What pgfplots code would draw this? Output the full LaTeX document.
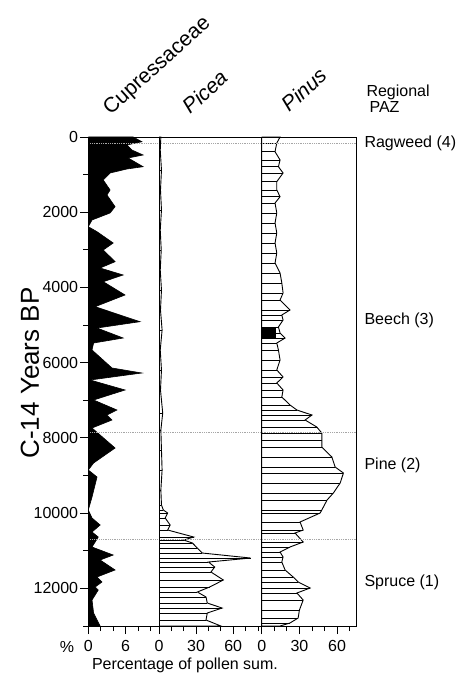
\documentclass[border=0pt]{standalone}
\usepackage{fontspec}
\setmainfont{Liberation Sans}
\usepackage{pgfplots}
\pgfplotsset{compat=1.18}
\usepackage{pgfplotstable}

% pollen percentages against C-14 age (years BP)
\pgfplotstableread{
age val
0 0
0 7.2
125 8.6
213 6.2
346 7.0
479 8.8
558 6.4
790 8.8
851 6.2
957 3.5
1143 2.4
1409 3.5
1542 3.0
1853 4.3
2020 3.5
2206 0.6
2385 0
2518 1.4
2818 4.0
3004 2.4
3315 4.3
3483 1.9
3669 5.6
3847 2.4
4200 5.9
4511 1.1
4910 8.3
5078 1.4
5344 5.6
5477 0.85
5663 0.6
6141 3.8
6274 8.6
6460 0.3
6726 5.9
6992 0.85
7258 4.6
7391 3.0
7524 3.8
7736 0.6
8268 4.3
8667 0.85
8853 0
9039 1.4
9571 0.6
9916 0
10129 0.6
10315 1.9
10501 0.6
10634 1.6
10900 0.6
11113 4.0
11245 1.9
11511 4.3
11697 1.4
11830 2.2
11963 1.1
12043 1.6
12309 0.6
12655 0.85
13000 1.9
13000 0
}\cupdata

\pgfplotstableread{
age val
0 0
0 1.5
346 1.0
877 2.0
1409 1.2
1941 2.0
2472 1.0
3004 1.8
3536 1.0
4068 2.0
4599 1.2
5131 2.5
5663 1.0
6194 2.0
6726 1.2
7338 3.0
7790 1.5
8321 2.0
8853 2.5
9384 1.5
9783 2.0
9916 3.5
9996 7
10129 5
10315 9
10448 7
10634 28
10714 20
10794 27
10927 31
11060 35
11193 74
11299 40
11432 45
11565 42
11777 52
11963 41
12096 31
12229 38
12389 39
12522 51
12655 39
12841 38
13000 50
13000 0
}\piceadata

\pgfplotstableread{
age val
0 0
0 14.6
160 12
391 10.6
611 14.6
790 13.3
957 17
1188 12
1409 12
1587 14.6
1755 10.6
2020 12
2286 10.6
2552 12
2818 10.6
3084 12
3350 10.6
3616 14.6
3881 16
4147 17
4333 14.6
4599 22.5
4732 16
4865 17
5051 13.3
5211 14.6
5344 18.6
5477 12
5663 13.3
5928 14.6
6194 12
6380 17
6540 12
6726 17
6912 16
7125 22.5
7258 28
7391 40
7524 34.5
7710 43.8
7870 47.8
8055 47.8
8241 47.8
8507 55.8
8773 58.4
8933 65
9198 62.4
9464 57
9650 52
9916 47.8
9996 46.5
10235 30.5
10448 33
10528 26.5
10767 33
10900 22.5
11033 14.6
11166 17
11299 16
11511 18.6
11697 25
11830 29
11990 38.5
12123 28
12309 33
12575 30
12787 29
12920 22.5
13000 14.6
13000 0
}\pinusdata

\pgfplotsset{
  pollen/.style={
    scale only axis, height=489pt,
    y dir=reverse, ymin=0, ymax=13000,
    axis on top,
    axis line style={line width=0.9pt},
    tick align=outside, xtick pos=bottom, ytick pos=left,
    major tick length=8pt, minor tick length=5pt,
    tick style={black, line width=0.9pt},
    ticklabel style={font=\fontsize{16}{18}\selectfont, inner sep=2pt},
    xticklabel style={yshift=-4pt},
    /pgf/number format/assume math mode=true,
    /pgf/number format/1000 sep={},
    scaled ticks=false,
  },
  zone/.style={gray!70, densely dotted, line width=0.8pt},
  silhouette/.style={draw=black, line width=0.9pt, fill=white},
}

\begin{document}
\begin{tikzpicture}

% Cupressaceae
\begin{axis}[pollen, at={(88.3pt,50pt)}, anchor=south west, width=70.7pt,
    xmin=0, xmax=11.35, xtick={0,6}, minor xtick={2,4,8,10},
    ytick={0,2000,...,12000}, minor ytick={1000,3000,...,13000}]
  \addplot[fill=black, draw=black, line width=0.6pt] table[x=val, y=age] {\cupdata} -- cycle;
  \addplot[zone] coordinates {(0,160) (12,160)};
  \addplot[zone] coordinates {(0,7850) (12,7850)};
  \addplot[zone] coordinates {(0,10690) (12,10690)};
\end{axis}

% Picea
\begin{axis}[pollen, at={(159pt,50pt)}, anchor=south west, width=102.7pt,
    xmin=0, xmax=83, xtick={0,30,60}, minor xtick={10,20,40,50,70,80},
    ytick=\empty]
  \addplot[silhouette] table[x=val, y=age] {\piceadata} -- cycle;
  \addplot[xcomb, black, line width=0.9pt] table[x=val, y=age] {\piceadata};
  \addplot[zone] coordinates {(0,160) (90,160)};
  \addplot[zone] coordinates {(0,7850) (90,7850)};
  \addplot[zone] coordinates {(0,10690) (90,10690)};
\end{axis}

% Pinus
\begin{axis}[pollen, at={(261.7pt,50pt)}, anchor=south west, width=94.3pt,
    xmin=0, xmax=75, xtick={0,30,60}, minor xtick={10,20,40,50,70},
    ytick=\empty]
  \addplot[silhouette] table[x=val, y=age] {\pinusdata} -- cycle;
  \addplot[xcomb, black, line width=0.9pt] table[x=val, y=age] {\pinusdata};
  \addplot[fill=black, draw=black] coordinates {(0,5080) (11,5080) (11,5320) (0,5320)} -- cycle;
  \addplot[zone] coordinates {(0,160) (80,160)};
  \addplot[zone] coordinates {(0,7850) (80,7850)};
  \addplot[zone] coordinates {(0,10690) (80,10690)};
\end{axis}

% titles and labels
\node[anchor=base west, rotate=42, font=\fontsize{21}{24}\selectfont] at (108pt,558pt) {Cupressaceae};
\node[anchor=base west, rotate=42, font=\fontsize{21}{24}\selectfont\itshape] at (188pt,559pt) {Picea};
\node[anchor=base west, rotate=42, font=\fontsize{21}{24}\selectfont\itshape] at (287pt,561pt) {Pinus};

\node[rotate=90, font=\fontsize{26}{30}\selectfont] at (30pt,303pt) {C-14 Years BP};

\node[font=\fontsize{16}{18}\selectfont] at (67pt,29pt) {\%};
\node[font=\fontsize{16}{18}\selectfont] at (185pt,11pt) {Percentage of pollen sum.};

\node[anchor=west, font=\fontsize{16}{18}\selectfont] at (363pt,584pt) {Regional};
\node[anchor=west, font=\fontsize{16}{18}\selectfont] at (366pt,569pt) {PAZ};
\node[anchor=west, font=\fontsize{16}{18}\selectfont] at (361pt,533pt) {Ragweed (4)};
\node[anchor=west, font=\fontsize{16}{18}\selectfont] at (361pt,356pt) {Beech (3)};
\node[anchor=west, font=\fontsize{16}{18}\selectfont] at (361pt,211pt) {Pine (2)};
\node[anchor=west, font=\fontsize{16}{18}\selectfont] at (361pt,94pt) {Spruce (1)};

\pgfresetboundingbox
\path[use as bounding box] (0pt,0pt) rectangle (464pt,676pt);
\end{tikzpicture}
\end{document}
